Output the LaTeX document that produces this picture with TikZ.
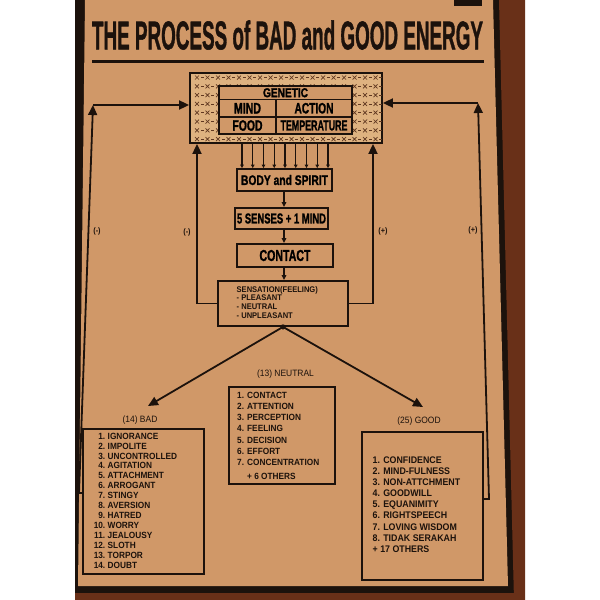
\documentclass[tikz,border=0pt]{standalone}
\usepackage{fontspec}
\usepackage{graphicx}
\setmainfont{Liberation Sans}[BoldFeatures={FakeBold=1.5}]
\newfontfamily\lstfont[FakeStretch=0.92]{Liberation Sans}
\usetikzlibrary{arrows.meta}
\definecolor{tan}{RGB}{208,152,104}
\definecolor{bandc}{RGB}{222,178,128}
\definecolor{ink}{RGB}{28,18,12}
\definecolor{framec}{RGB}{105,48,24}
\definecolor{xmc}{RGB}{95,55,32}
\newcommand{\fitt}[3]{\resizebox{#1pt}{#2pt}{\bfseries #3}}
\tikzset{
 box/.style={draw=ink, line width=1.8pt, fill=tan, inner sep=0pt},
 cell/.style={draw=ink, line width=1.6pt, fill=tan, inner sep=0pt},
 fb/.style={draw=ink, line width=1.8pt},
 arr/.style={-{Triangle[length=10pt,width=9pt]}},
 sarr/.style={-{Triangle[length=5pt,width=4.5pt]}},
 tarr/.style={-{Triangle[length=3.5pt,width=3.5pt]}},
 lsttxt/.style={text=ink, inner sep=0pt, font=\lstfont\bfseries\fontsize{9}{9}\selectfont},
 goodtxt/.style={text=ink, inner sep=0pt, font=\lstfont\bfseries\fontsize{9.6}{9.6}\selectfont},
 sentxt/.style={text=ink, inner sep=0pt, font=\lstfont\bfseries\fontsize{8.2}{8.2}\selectfont},
 lbltxt/.style={text=ink, inner sep=0pt, font=\lstfont\fontsize{9.2}{9.2}\selectfont},
 pmtxt/.style={text=ink, inner sep=0pt, font=\lstfont\bfseries\fontsize{8}{8}\selectfont},
 xm/.style={draw=xmc, line width=0.7pt},
}
\begin{document}
\begin{tikzpicture}[x=1pt,y=-1pt]
\useasboundingbox (0,0) rectangle (600,600);
% background / poster
\fill[white] (0,0) rectangle (600,600);
\fill[ink] (75,0) rectangle (525,600);
\fill[framec] (499,0) -- (525,0) -- (525,600) -- (514,600) -- cycle;
\fill[framec] (75,593) rectangle (514,600);
\fill[tan] (85,0) -- (493,0) -- (508,586) -- (78,586) -- cycle;
\fill[ink] (454,0) rectangle (482,6);
% title
\node[text=ink, inner sep=0pt] (title) at (287.5,35) {\fitt{391}{29}{THE PROCESS of BAD and GOOD ENERGY}};
\coordinate (ul1) at (92,61.5);
\coordinate (ul2) at (484,61.5);
\draw[ink, line width=3.2pt] (ul1) -- (ul2);
% genetic block
\node[draw=ink, line width=1.8pt, fill=bandc, minimum width=192pt, minimum height=70pt, inner sep=0pt] (gen) at (286,108) {};
\foreach \i in {0,...,17}{
  \foreach \j in {0,...,7}{
    \pgfmathsetmacro\xx{197+10.5*\i}
    \pgfmathsetmacro\yy{77.5+8.8*\j}
    \draw[xm] (\xx-2,\yy-2) -- (\xx+2,\yy+2) (\xx-2,\yy+2) -- (\xx+2,\yy-2);
    \draw[xm] (\xx+3.8,\yy) -- (\xx+6.6,\yy);
  }
}
\node[cell, minimum width=133pt, minimum height=13.5pt] (gbar) at (285.5,92.75) {\fitt{45}{9}{GENETIC}};
\node[cell, minimum width=57pt, minimum height=17.5pt] (mind) at (247.5,108.25) {\fitt{27}{10.5}{MIND}};
\node[cell, minimum width=76pt, minimum height=17.5pt] (action) at (314,108.25) {\fitt{39}{10.5}{ACTION}};
\node[cell, minimum width=57pt, minimum height=17pt] (food) at (247.5,125.5) {\fitt{30}{10.5}{FOOD}};
\node[cell, minimum width=76pt, minimum height=17pt] (temp) at (314,125.5) {\fitt{67}{10}{TEMPERATURE}};
% chain
\node[box, minimum width=95pt, minimum height=22pt] (body) at (284.5,180) {\fitt{87}{10}{BODY and SPIRIT}};
\node[box, minimum width=93pt, minimum height=21pt] (senses) at (281.5,218.5) {\fitt{89}{10}{5 SENSES + 1 MIND}};
\node[box, minimum width=96pt, minimum height=23pt] (contact) at (285,255.5) {\fitt{51}{11}{CONTACT}};
\node[box, minimum width=130pt, minimum height=45pt] (sens) at (283,303.5) {};
\node[sentxt, anchor=base west] (s1) at (236.5,292) {SENSATION(FEELING)};
\node[sentxt, anchor=base west] (s2) at (236.5,300.3) {- PLEASANT};
\node[sentxt, anchor=base west] (s3) at (236.5,309) {- NEUTRAL};
\node[sentxt, anchor=base west] (s4) at (236.5,318) {- UNPLEASANT};
% nine small arrows
\foreach \i in {0,...,8}{
  \pgfmathsetmacro\xx{242+10.75*\i}
  \coordinate (t\i) at (\xx,0);
  \draw[fb, line width=1.1pt, tarr] (gen.south -| t\i) -- (body.north -| t\i);
}
\coordinate (cx) at (284,0);
\draw[fb, line width=1.4pt, sarr] (body.south -| cx) -- (senses.north -| cx);
\draw[fb, line width=1.4pt, sarr] (senses.south -| cx) -- (contact.north -| cx);
\draw[fb, line width=1.4pt, sarr] (contact.south -| cx) -- (sens.north -| cx);
% inner feedback
\coordinate (il) at (197,0);
\coordinate (ir) at (373,0);
\draw[fb, arr] (sens.west) -| (gen.south -| il);
\draw[fb, arr] (sens.east) -| (gen.south -| ir);
\node[pmtxt] (m1) at (187,232) {(-)};
\node[pmtxt] (p1) at (383,231) {(+)};
% result boxes
\node[box, minimum width=121pt, minimum height=145pt] (bad) at (143.5,501.5) {};
\node[box, minimum width=106pt, minimum height=97pt] (neutral) at (282,435.5) {};
\node[box, minimum width=121pt, minimum height=148pt] (good) at (422.5,506) {};
\node[lbltxt] (badl) at (140,420) {(14) BAD};
\node[lbltxt] (neul) at (285.5,374) {(13) NEUTRAL};
\node[lbltxt] (goodl) at (419,421) {(25) GOOD};
% branch arrows
\coordinate (bt) at (148,406);
\coordinate (gt) at (423,407);
\fill[ink] (sens.south) circle (2.6pt);
\draw[fb, arr] (sens.south) -- (bt);
\draw[fb, arr] (sens.south) -- (gt);
% outer feedback
\coordinate (lo1) at (79,493);
\coordinate (lo2) at (93,105);
\draw[fb, arr] (bad.west |- lo1) -- (lo1) -- (lo2);
\draw[fb, arr] (lo2) -- (gen.west |- lo2);
\coordinate (ro1) at (489,499);
\coordinate (ro2) at (478,103);
\draw[fb, arr] (good.east |- ro1) -- (ro1) -- (ro2);
\draw[fb, arr] (ro2) -- (gen.east |- ro2);
\node[pmtxt] (m2) at (97,231) {(-)};
\node[pmtxt] (p2) at (473,230) {(+)};
% BAD list
\foreach [count=\k from 0] \n/\w in {1./IGNORANCE,2./IMPOLITE,3./UNCONTROLLED,4./AGITATION,5./ATTACHMENT,6./ARROGANT,7./STINGY,8./AVERSION,9./HATRED,10./WORRY,11./JEALOUSY,12./SLOTH,13./TORPOR,14./DOUBT}{
  \pgfmathsetmacro\yy{439.2+9.92*\k}
  \node[lsttxt, anchor=base east] (bn\k) at (105.5,\yy) {\n};
  \node[lsttxt, anchor=base west] (bw\k) at (107.5,\yy) {\w};
}
% NEUTRAL list
\foreach [count=\k from 0] \t in {1. CONTACT,2. ATTENTION,3. PERCEPTION,4. FEELING,5. DECISION,6. EFFORT,7. CONCENTRATION}{
  \pgfmathsetmacro\yy{398.2+11.2*\k}
  \node[lsttxt, anchor=base west] (n\k) at (237,\yy) {\t};
}
\node[lsttxt, anchor=base west] (n7) at (247,479.5) {+ 6 OTHERS};
% GOOD list
\foreach [count=\k from 0] \t in {1. CONFIDENCE,2. MIND-FULNESS,3. NON-ATTCHMENT,4. GOODWILL,5. EQUANIMITY,6. RIGHTSPEECH,7. LOVING WISDOM,8. TIDAK SERAKAH,+ 17 OTHERS}{
  \pgfmathsetmacro\yy{463.4+11.1*\k}
  \node[goodtxt, anchor=base west] (g\k) at (372.5,\yy) {\t};
}
\end{tikzpicture}
\end{document}
